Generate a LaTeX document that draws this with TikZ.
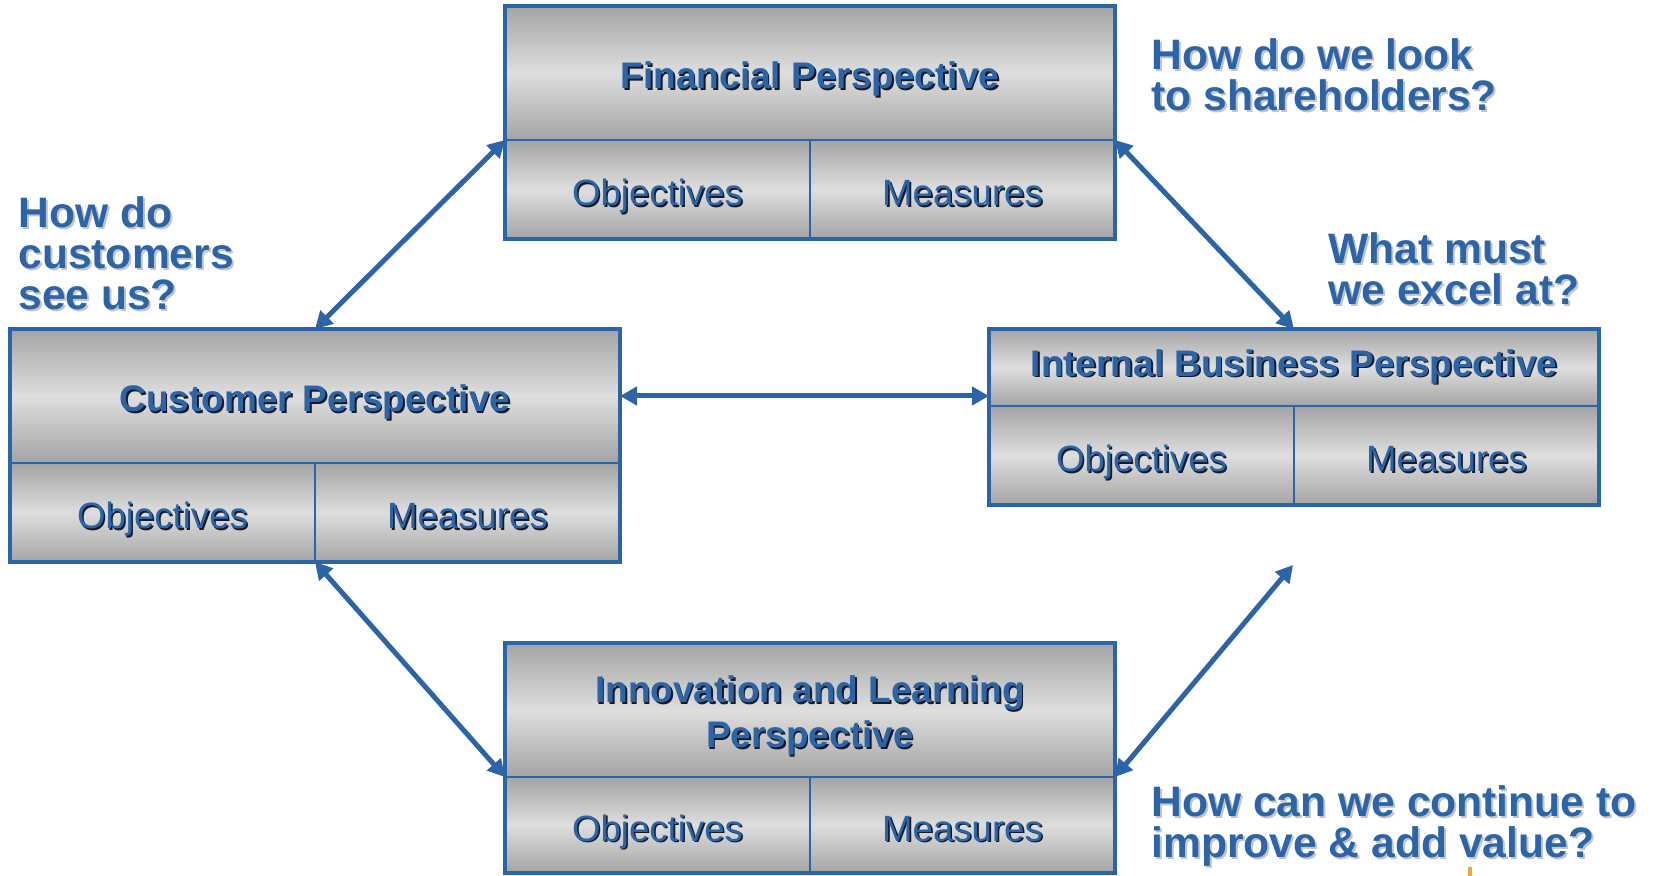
\documentclass[tikz,border=0pt]{standalone}
\usepackage{fontspec}
\setmainfont{Liberation Sans}
\usetikzlibrary{arrows.meta}
\definecolor{bblue}{HTML}{2B65A8}
\definecolor{gtop}{HTML}{A4A4A4}
\definecolor{gmid}{HTML}{DEDEDE}
\definecolor{qshadow}{HTML}{C4C4C4}
\definecolor{tshadow}{HTML}{151A24}
\definecolor{orangemark}{HTML}{F2A530}
\newcommand\bscShadowText[3]{\leavevmode\rlap{\kern#2\raisebox{-#2}{\textcolor{#1}{#3}}}#3}
\newcommand\bscQ[1]{\bscShadowText{qshadow}{1pt}{#1}}
\newcommand\bscB[1]{\bscShadowText{tshadow}{0.8pt}{#1}}
\newcommand\bscTitleFont{\fontsize{18.5pt}{22.5pt}\selectfont\bfseries}
\newcommand\bscCellFont{\fontsize{18.3pt}{21pt}\selectfont}
\newcommand\bscQFont{\fontsize{21.3pt}{20.5pt}\selectfont\bfseries}
\tikzset{
  cellbase/.style={draw=bblue, line width=1pt, top color=gtop, bottom color=gtop,
    middle color=gmid, inner sep=0pt, outer sep=0pt, anchor=north west, text=bblue, align=center},
  titlebox/.style={cellbase, minimum width=305pt, minimum height=67pt, font=\bscTitleFont},
  fixedbase/.style={text height=16pt, text depth=0pt},
  cellbox/.style={cellbase, fixedbase, minimum width=152.5pt, minimum height=49.5pt, font=\bscCellFont},
  frame/.style={draw=bblue, line width=2pt},
  question/.style={text=bblue, font=\bscQFont, align=left, anchor=north west, inner sep=0pt},
  biarrow/.style={draw=bblue, line width=2.5pt,
    {Triangle[length=8.5pt,width=9pt]}-{Triangle[length=8.5pt,width=9pt]}}
}
\begin{document}
\begin{tikzpicture}[x=0.5pt,y={(0pt,-0.5pt)}]
\useasboundingbox (0,0) rectangle (1654,876);
% Financial
\node[titlebox, fixedbase] (fin) at (505,6) {\bscB{Financial Perspective}};
\node[cellbox] (fino) at (505,140) {\bscB{Objectives}};
\node[cellbox] (finm) at (810,140) {\bscB{Measures}};
\draw[frame] (fin.north west) rectangle (finm.south east);
% Customer
\node[titlebox, fixedbase] (cust) at (10,329) {\bscB{Customer Perspective}};
\node[cellbox] (custo) at (10,463) {\bscB{Objectives}};
\node[cellbox] (custm) at (315,463) {\bscB{Measures}};
\draw[frame] (cust.north west) rectangle (custm.south east);
% Internal
\node[titlebox, minimum height=38.5pt] (int) at (989,329) {\bscB{Internal Business Perspective}};
\node[cellbox] (into) at (989,406) {\bscB{Objectives}};
\node[cellbox] (intm) at (1294,406) {\bscB{Measures}};
\draw[frame] (int.north west) rectangle (intm.south east);
% Innovation
\node[titlebox, text height=37.4pt, text depth=0pt] (inn) at (505,643) {\bscB{Innovation and Learning}\\\bscB{Perspective}};
\node[cellbox, minimum height=48pt] (inno) at (505,777) {\bscB{Objectives}};
\node[cellbox, minimum height=48pt] (innm) at (810,777) {\bscB{Measures}};
\draw[frame] (inn.north west) rectangle (innm.south east);
% questions
\node[question] (q1) at (1151,38) {\bscQ{How do we look}\\\bscQ{to shareholders?}};
\node[question] (q2) at (18,196) {\bscQ{How do}\\\bscQ{customers}\\\bscQ{see us?}};
\node[question] (q3) at (1328,232) {\bscQ{What must}\\\bscQ{we excel at?}};
\node[question] (q4) at (1151,785) {\bscQ{How can we continue to}\\\bscQ{improve \& add value?}};
% arrows
\coordinate (free) at (1293,565);
\draw[biarrow] (fin.south west) -- (cust.north);
\draw[biarrow] (fin.south east) -- (int.north);
\draw[biarrow] (cust.east) -- (cust.east -| int.west);
\draw[biarrow] (custo.south east) -- (inn.south west);
\draw[biarrow] (inn.south east) -- (free);
% small orange mark
\fill[orangemark] (1468,867) rectangle (1472,876);
\end{tikzpicture}
\end{document}
